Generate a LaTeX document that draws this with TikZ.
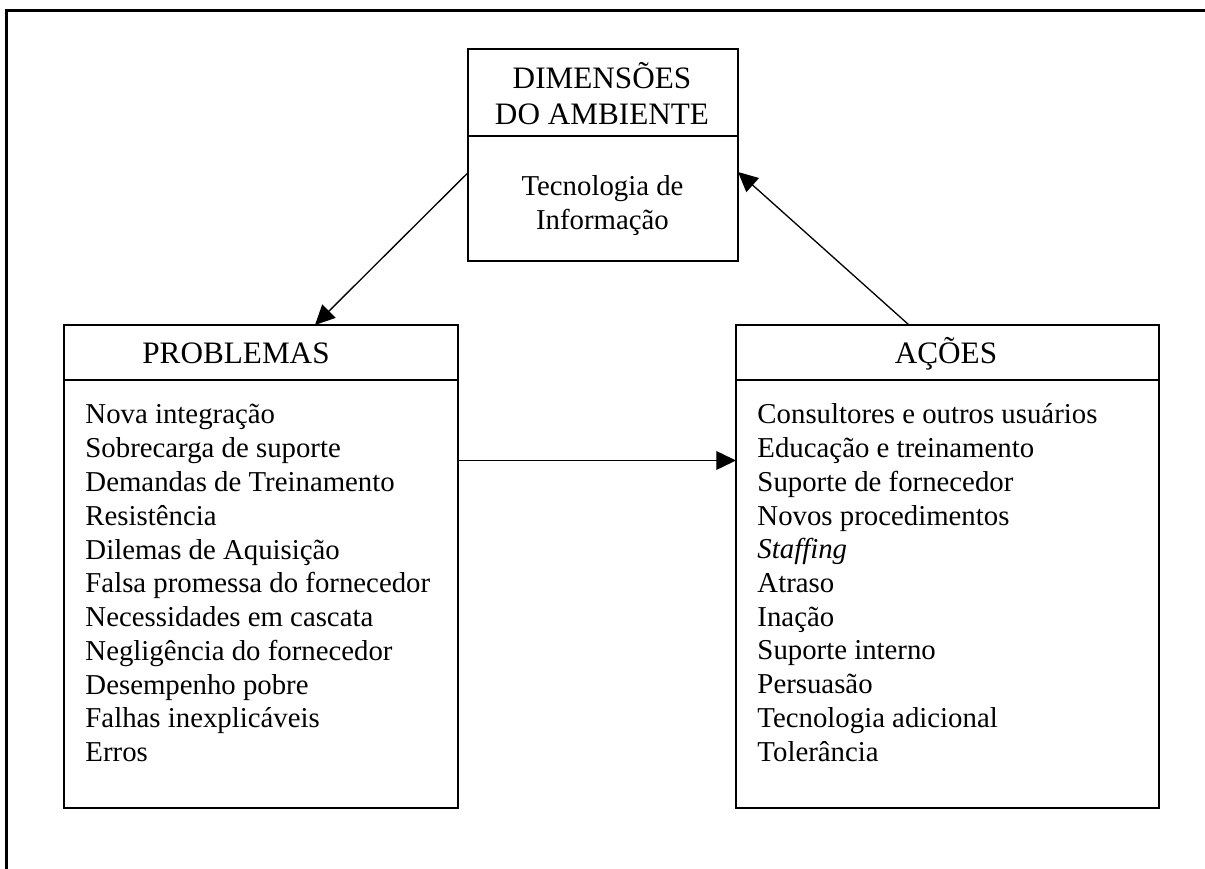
\documentclass[tikz,border=0pt]{standalone}
\usepackage{fontspec}
\setmainfont{Liberation Serif}
\usetikzlibrary{arrows.meta,fit}
\begin{document}
\begin{tikzpicture}[x=0.41667pt, y=-0.41667pt,
  box/.style={draw, line width=0.75pt, inner sep=0pt},
  sepline/.style={line width=0.75pt},
  frameline/.style={line width=0.9pt},
  arr/.style={line width=0.55pt, -{Triangle[length=8.2pt,width=7.8pt]}},
  body/.style={inner sep=0pt, anchor=base west, font=\fontsize{12pt}{14pt}\selectfont},
  cbody/.style={inner sep=0pt, anchor=base, font=\fontsize{12pt}{14pt}\selectfont},
  head/.style={inner sep=0pt, anchor=base, font=\fontsize{13pt}{15pt}\selectfont}]
\useasboundingbox (0,0) rectangle (1205,869);
% outer frame (top and left)
\draw[frameline] (6.5,869) -- (6.5,10.5) -- (1205,10.5);
% boxes
\node[box, fit={(468,49)(738,261)}] (dim) {};
\draw[sepline] (468,136) -- (738,136);
\node[box, fit={(64,325)(458,808)}] (prob) {};
\draw[sepline] (64,380) -- (458,380);
\node[box, fit={(736,325)(1159,808)}] (acoes) {};
\draw[sepline] (736,380) -- (1159,380);
% top box text
\node[head] (d1) at (602,88.3) {DIMENSÕES};
\node[head] (d2) at (602,124.3) {DO AMBIENTE};
\node[cbody] (t1) at (602.5,196) {Tecnologia de};
\node[cbody] (t2) at (602.5,230) {Informação};
% headers
\node[head] (ph) at (236,364) {PROBLEMAS};
\node[head] (ah) at (946,363.5) {AÇÕES};
% lists
\foreach \t [count=\i] in {Nova integração, Sobrecarga de suporte, Demandas de Treinamento, Resistência, Dilemas de Aquisição, Falsa promessa do fornecedor, Necessidades em cascata, Negligência do fornecedor, Desempenho pobre, Falhas inexplicáveis, Erros}
  \node[body] (p\i) at (85,{424+(\i-1)*33.77}) {\t};
\foreach \t [count=\i] in {Consultores e outros usuários, Educação e treinamento, Suporte de fornecedor, Novos procedimentos, \textit{Staffing}, Atraso, Inação, Suporte interno, Persuasão, Tecnologia adicional, Tolerância}
  \node[body] (a\i) at (757,{424+(\i-1)*33.7}) {\t};
% connectors
\coordinate (dimW) at (468,172.7);
\coordinate (probN) at (315,325);
\coordinate (acoesN) at (909,325);
\coordinate (dimE) at (738,172);
\coordinate (probE) at (458,460.5);
\coordinate (acoesW) at (736,460.5);
\draw[arr] (dimW) -- (probN);
\draw[arr] (acoesN) -- (dimE);
\draw[arr] (probE) -- (acoesW);
\end{tikzpicture}
\end{document}
